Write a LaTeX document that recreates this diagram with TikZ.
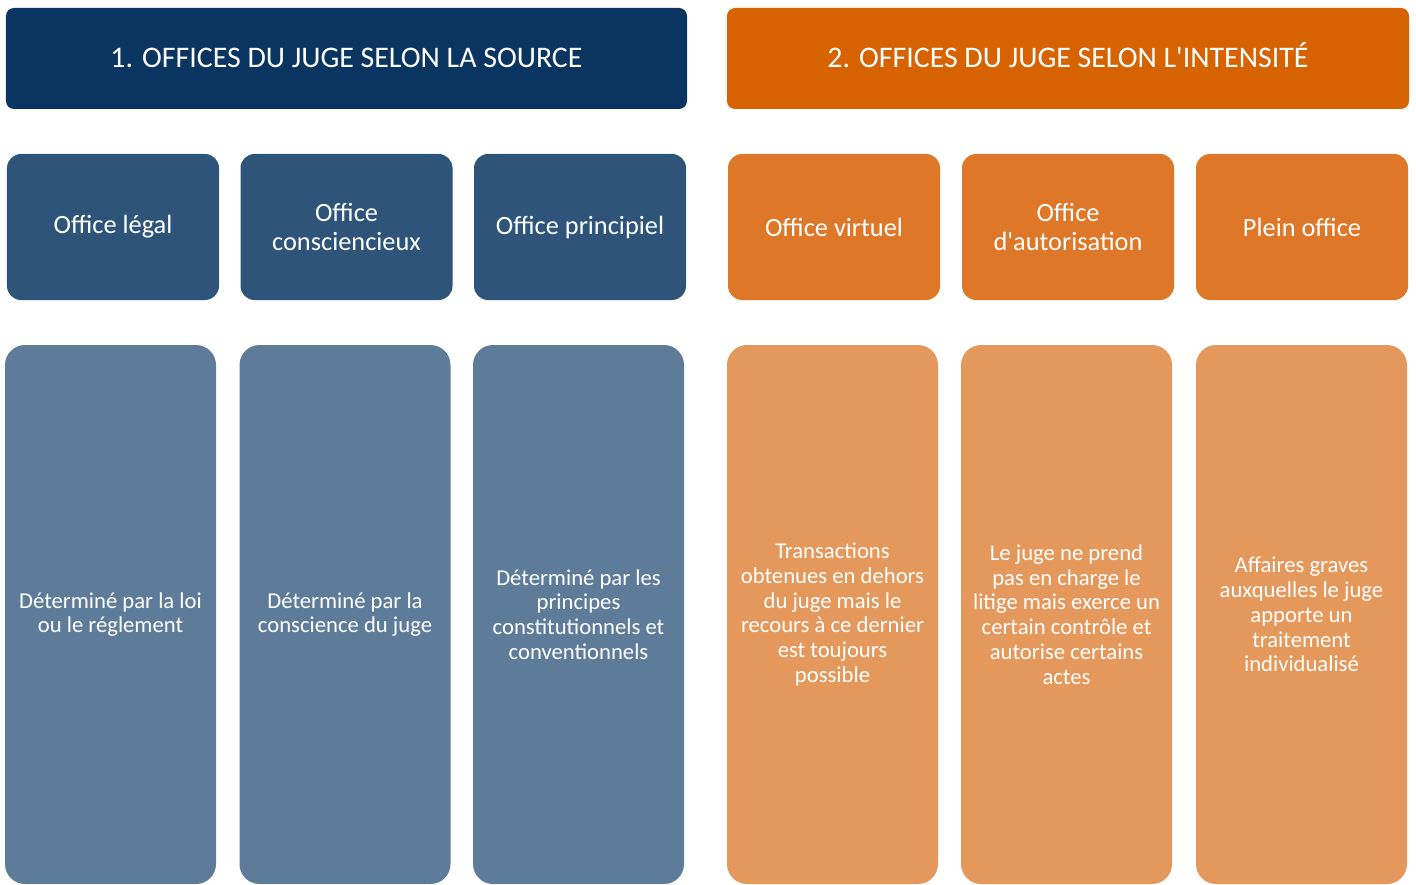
\documentclass[tikz,border=0pt]{standalone}
\usepackage{fontspec}
\setmainfont{Carlito}
\usepackage{xcolor}
\usepackage{tikz}
\definecolor{navy}{HTML}{0A3560}
\definecolor{bluemid}{HTML}{2E5579}
\definecolor{bluelow}{HTML}{5E7C99}
\definecolor{rust}{HTML}{D76200}
\definecolor{orangemid}{HTML}{DE7828}
\definecolor{orangelow}{HTML}{E4985C}
\tikzset{
  head/.style={rounded corners=0.16cm, text=white, inner sep=0pt,
    text height=13.2pt, text depth=2.4pt,
    minimum width=13.62cm, minimum height=2.02cm, font=\fontsize{17}{20}\selectfont},
  office/.style={rounded corners=0.28cm, text=white, inner sep=0pt, align=center,
    minimum width=4.24cm, minimum height=2.92cm, font=\fontsize{15}{16.5}\selectfont},
  descr/.style={rounded corners=0.4cm, text=white, inner sep=0pt, align=center,
    minimum width=4.22cm, minimum height=10.78cm, font=\fontsize{12.9}{14.1}\selectfont}
}

\begin{document}
\begin{tikzpicture}
\useasboundingbox (0,0) rectangle (28.32,-17.7);
% en-tetes
\node[head, fill=navy] (source) at (6.93,-1.17) {1. OFFICES DU JUGE SELON LA SOURCE};
\node[head, fill=rust, minimum width=13.64cm] (intensite) at (21.36,-1.17) {2. OFFICES DU JUGE SELON L\textquotesingle INTENSITÉ};
% offices
\node[office, fill=bluemid] (legal) at (2.26,-4.54) {Office légal};
\node[office, fill=bluemid] (consc) at (6.93,-4.54) {Office\\consciencieux};
\node[office, fill=bluemid] (princ) at (11.6,-4.54) {Office principiel};
\node[office, fill=orangemid] (virtuel) at (16.68,-4.54) {Office virtuel};
\node[office, fill=orangemid] (autor) at (21.36,-4.54) {Office\\d\textquotesingle autorisation};
\node[office, fill=orangemid] (plein) at (26.04,-4.54) {Plein office};
% definitions
\node[descr, fill=bluelow] (dlegal) at (2.21,-12.29) {Déterminé par la loi\\ou le réglement};
\node[descr, fill=bluelow] (dconsc) at (6.9,-12.29) {Déterminé par la\\conscience du juge};
\node[descr, fill=bluelow] (dprinc) at (11.57,-12.29) {Déterminé par les\\principes\\constitutionnels et\\conventionnels};
\node[descr, fill=orangelow] (dvirtuel) at (16.65,-12.29) {Transactions\\obtenues en dehors\\du juge mais le\\recours à ce dernier\\est toujours\\possible};
\node[descr, fill=orangelow] (dautor) at (21.33,-12.29) {Le juge ne prend\\pas en charge le\\litige mais exerce un\\certain contrôle et\\autorise certains\\actes};
\node[descr, fill=orangelow] (dplein) at (26.03,-12.29) {Affaires graves\\auxquelles le juge\\apporte un\\traitement\\individualisé};
\end{tikzpicture}
\end{document}
